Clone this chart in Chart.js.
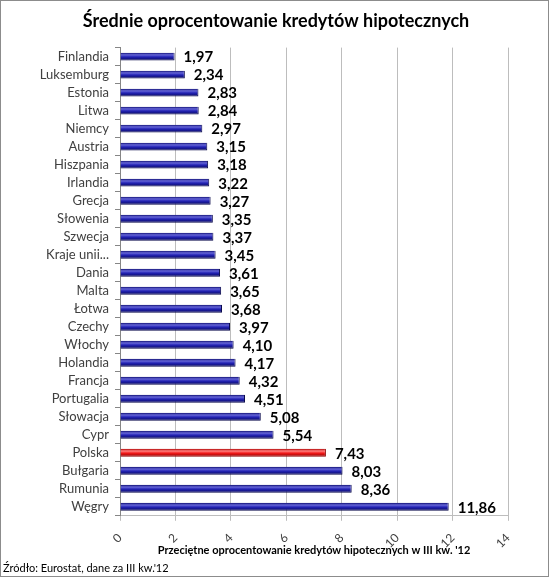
<!DOCTYPE html>
<html><head><meta charset="utf-8">
<script src="https://cdn.jsdelivr.net/npm/chart.js@4/dist/chart.umd.min.js"></script>
<style>html,body{margin:0;padding:0;background:#fff}#w{width:549px;height:577px}</style>
</head><body><div id="w"><canvas id="c"></canvas></div>
<script>
const categories = ["Finlandia","Luksemburg","Estonia","Litwa","Niemcy","Austria","Hiszpania","Irlandia","Grecja","Słowenia","Szwecja","Kraje unii...","Dania","Malta","Łotwa","Czechy","Włochy","Holandia","Francja","Portugalia","Słowacja","Cypr","Polska","Bułgaria","Rumunia","Węgry"];
const values = [1.97,2.34,2.83,2.84,2.97,3.15,3.18,3.22,3.27,3.35,3.37,3.45,3.61,3.65,3.68,3.97,4.10,4.17,4.32,4.51,5.08,5.54,7.43,8.03,8.36,11.86];
const highlight = ["Polska"];
const xTicks = [0,2,4,6,8,10,12,14];
const titleText = "Średnie oprocentowanie kredytów hipotecznych";
const xTitle = "Przeciętne oprocentowanie kredytów hipotecznych w III kw. '12";
const sourceText = "Źródło: Eurostat, dane za III kw.'12";

const FONT = "Lato, 'Open Sans', sans-serif";
const BAR_PCT = 0.44;

function barGrad(ctx, red) {
  const fallback = red ? '#ee1111' : '#2424b0';
  const chart = ctx.chart;
  const y = chart.scales && chart.scales.y;
  if (!y) return fallback;
  const c = y.getPixelForValue(ctx.dataIndex);
  const band = Math.abs(y.getPixelForValue(1) - y.getPixelForValue(0));
  if (!isFinite(c) || !isFinite(band) || band <= 0) return fallback;
  const h = band * BAR_PCT;
  const g = chart.ctx.createLinearGradient(0, c - h/2, 0, c + h/2);
  if (red) {
    g.addColorStop(0, '#b00000'); g.addColorStop(0.28, '#ff8080'); g.addColorStop(0.55, '#f21818'); g.addColorStop(1, '#8a0000');
  } else {
    g.addColorStop(0, '#0b0b70'); g.addColorStop(0.28, '#6666d8'); g.addColorStop(0.55, '#2222b4'); g.addColorStop(1, '#08085a');
  }
  return g;
}

const frame = {
  id: 'frame',
  beforeDraw(chart) {
    const c = chart.ctx;
    c.save(); c.fillStyle = '#fff'; c.fillRect(0,0,chart.width,chart.height); c.restore();
  },
  afterDraw(chart) {
    const c = chart.ctx;
    c.save(); c.strokeStyle = '#8c8c8c'; c.lineWidth = 1;
    c.strokeRect(0.5,0.5,chart.width-1,chart.height-1); c.restore();
  }
};
const valueLabels = {
  id: 'valueLabels',
  afterDatasetsDraw(chart) {
    const c = chart.ctx;
    const meta = chart.getDatasetMeta(0);
    c.save();
    c.font = "bold 15px " + FONT;
    c.fillStyle = '#000';
    c.textBaseline = 'middle';
    c.textAlign = 'left';
    meta.data.forEach((el, i) => {
      c.fillText(values[i].toFixed(2).replace('.', ','), el.x + 9, el.y + 1);
    });
    c.restore();
  }
};

const chart = new Chart(document.getElementById('c'), {
  type: 'bar',
  data: {
    labels: categories,
    datasets: [{
      data: values,
      yAxisID: 'y',
      backgroundColor: (ctx) => barGrad(ctx, highlight.includes(categories[ctx.dataIndex])),
      borderColor: (ctx) => highlight.includes(categories[ctx.dataIndex]) ? '#8a0000' : '#08084a',
      borderWidth: {top: 0, bottom: 1, left: 0, right: 1},
      barPercentage: BAR_PCT,
      categoryPercentage: 1
    }]
  },
  options: {
    indexAxis: 'y',
    responsive: true,
    maintainAspectRatio: false,
    animation: false,
    devicePixelRatio: 1,
    layout: { padding: { left: 3, right: 0, top: 2, bottom: 2 } },
    plugins: {
      legend: { display: false },
      tooltip: { enabled: false },
      title: { display: true, text: titleText, color: '#000', font: { family: FONT, size: 18, weight: 'bold' }, padding: { top: 8, bottom: 16 } },
      subtitle: { display: true, position: 'bottom', align: 'start', text: sourceText, color: '#000', font: { family: FONT, size: 11 }, padding: { top: 2, bottom: 0 } }
    },
    scales: {
      x: {
        min: 0, max: 14,
        afterBuildTicks: (s) => { s.ticks = xTicks.map(v => ({ value: v })); },
        afterFit: (s) => { s.height = 44; },
        ticks: { color: '#404040', font: { family: FONT, size: 12 }, minRotation: 45, maxRotation: 45, padding: 10 },
        grid: { color: '#bdbdbd', tickLength: 5, drawTicks: true },
        border: { display: true, color: '#bdbdbd' },
        title: { display: true, text: xTitle, color: '#000', font: { family: FONT, size: 11, weight: 'bold' }, padding: { top: 1, bottom: 3 } }
      },
      y: {
        afterFit: (s) => { s.width = 117; },
        ticks: { color: '#404040', font: { family: FONT, size: 13 }, padding: 6, autoSkip: false },
        grid: { display: true, drawOnChartArea: false, tickLength: 5, color: '#868686', offset: true },
        border: { display: true, color: '#868686' }
      },
      yRight: {
        type: 'category',
        position: 'right',
        display: true,
        afterFit: (s) => { s.width = 41; },
        ticks: { display: false },
        grid: { display: false },
        border: { display: false }
      }
    }
  },
  plugins: [frame, valueLabels]
});
chart.update();
</script>
</body></html>
